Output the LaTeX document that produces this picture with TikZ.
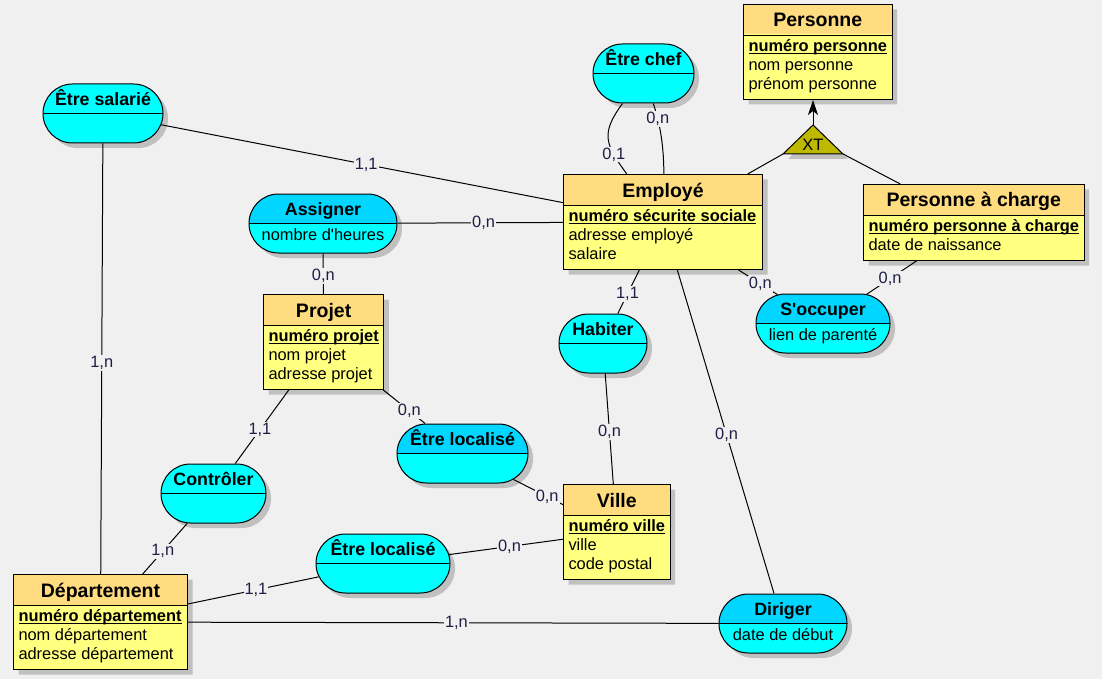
\documentclass[tikz,border=0pt]{standalone}
\usepackage{fontspec}
\setmainfont{Liberation Sans}
\usetikzlibrary{shapes.multipart,shapes.misc,shadows,arrows.meta}

\definecolor{fond}{RGB}{240,240,240}
\definecolor{enttete}{RGB}{255,220,128}
\definecolor{entcorps}{RGB}{255,255,128}
\definecolor{asscorps}{RGB}{0,255,255}
\definecolor{asstete}{RGB}{0,214,255}
\definecolor{gris}{RGB}{192,192,192}
\definecolor{xtfond}{RGB}{190,185,0}
\definecolor{cardtxt}{RGB}{30,30,70}

\newcommand{\titre}[1]{\rule[-8pt]{0pt}{30pt}{\fontsize{19.5}{20}\selectfont\bfseries #1}}
\newcommand{\cle}[1]{\underbar{\textbf{#1}}}
\newcommand{\attrs}[1]{\begin{tabular}{@{}l@{}}\rule{0pt}{15.5pt}#1\rule[-9.5pt]{0pt}{0pt}\end{tabular}}
\newcommand{\asso}[2]{\makebox[0pt]{\begin{tabular}{@{}c@{}}\rule[-8.5pt]{0pt}{30pt}{\fontsize{17.8}{19}\selectfont\bfseries #1}\\\rule[-13pt]{0pt}{29pt}#2\end{tabular}}}

\tikzset{
  ombre/.style={drop shadow={shadow xshift=5pt,shadow yshift=-5pt,fill=gris,opacity=1}},
  entite/.style={rectangle split, rectangle split parts=2,
    rectangle split part align={center,left},
    draw, fill=entcorps, anchor=north west, inner xsep=5pt, inner ysep=0pt,
    font=\fontsize{16.4}{19}\selectfont, ombre,
    path picture={\fill[enttete] (path picture bounding box.north west) rectangle ([yshift=-30pt]path picture bounding box.north east);}},
  assoc/.style={rounded rectangle, draw, fill=asscorps, minimum height=59pt,
    inner sep=0pt, font=\fontsize{16.4}{19}\selectfont, ombre,
    path picture={\draw (path picture bounding box.west) -- (path picture bounding box.east);}},
  assoctete/.style={assoc,
    path picture={\fill[asstete] (path picture bounding box.north west) rectangle (path picture bounding box.east);
      \draw (path picture bounding box.west) -- (path picture bounding box.east);}},
  card/.style={fill=fond, inner sep=1pt, text=cardtxt, font=\fontsize{16.4}{19}\selectfont}
}

\begin{document}
\begin{tikzpicture}[x=1pt,y=-1pt,line width=1pt]
\fill[fond] (0,0) rectangle (1102,679);
\useasboundingbox (0,0) rectangle (1102,679);

% entites
\node[entite, minimum width=147pt] (personne) at (743,4) {\titre{Personne}\nodepart{two}\attrs{\cle{numéro personne}\\nom personne\\prénom personne}};
\node[entite, minimum width=199pt] (employe) at (563,174) {\titre{Employé}\nodepart{two}\attrs{\cle{numéro sécurite sociale}\\adresse employé\\salaire}};
\node[entite, minimum width=220pt] (pcharge) at (863,184) {\titre{Personne à charge}\nodepart{two}\attrs{\cle{numéro personne à charge}\\date de naissance}};
\node[entite, minimum width=120pt] (projet) at (263,294) {\titre{Projet}\nodepart{two}\attrs{\cle{numéro projet}\\nom projet\\adresse projet}};
\node[entite, minimum width=106pt] (ville) at (563,484) {\titre{Ville}\nodepart{two}\attrs{\cle{numéro ville}\\ville\\code postal}};
\node[entite, minimum width=174pt] (departement) at (13,574) {\titre{Département}\nodepart{two}\attrs{\cle{numéro département}\\nom département\\adresse département}};

% associations
\node[assoc, minimum width=120pt] (salarie) at (103,113.5) {\asso{Être salarié}{}};
\node[assoc, minimum width=101pt] (chef) at (643.5,73.5) {\asso{Être chef}{}};
\node[assoctete, minimum width=148pt] (assigner) at (323,223.5) {\asso{Assigner}{nombre d\textquotesingle{}heures}};
\node[assoc, minimum width=88pt] (habiter) at (603,343.5) {\asso{Habiter}{}};
\node[assoctete, minimum width=134pt] (soccuper) at (823,323.5) {\asso{S\textquotesingle{}occuper}{lien de parenté}};
\node[assoc, minimum width=105pt] (controler) at (213.5,493.5) {\asso{Contrôler}{}};
\node[assoctete, minimum width=131pt] (localiseA) at (462.5,453.5) {\asso{Être localisé}{}};
\node[assoc, minimum width=134pt] (localiseB) at (383,563.5) {\asso{Être localisé}{}};
\node[assoctete, minimum width=128pt] (diriger) at (783,623.5) {\asso{Diriger}{date de début}};

% heritage XT
\coordinate (xt-haut) at (813,125);
\coordinate (xt-g) at (783,154);
\coordinate (xt-d) at (843,154);
\filldraw[fill=xtfond, ombre] (xt-haut) -- (xt-g) -- (xt-d) -- cycle;
\node[inner sep=0pt, font=\fontsize{16.5}{17}\selectfont] (xt) at (813,145) {XT};
\draw[-{Stealth[length=15pt,width=10pt,inset=4pt]}] (xt-haut) -- (xt-haut |- personne.south);
\draw (employe) -- (xt-g);
\draw (xt-d) -- (pcharge);

% liens
\draw (salarie) -- node[card,pos=0.51]{1,1} (employe);
\draw (salarie) -- node[card,pos=0.51]{1,n} (departement);
\draw (chef.235) .. controls +(-22,30) and +(-22,-30) .. node[card,pos=0.75]{0,1} (employe.127);
\draw (chef.288) .. controls +(5,15) and +(0,-34) .. node[card,pos=0.3]{0,n} (employe.89);
\draw (assigner) -- node[card,pos=0.52]{0,n} (employe);
\draw (assigner) -- node[card,pos=0.55]{0,n} (projet);
\draw (employe) -- node[card,pos=0.55]{1,1} (habiter);
\draw (habiter) -- node[card,pos=0.53]{0,n} (ville);
\draw (employe) -- node[card,pos=0.51]{0,n} (diriger);
\draw (employe) -- node[card,pos=0.56]{0,n} (soccuper);
\draw (soccuper) -- node[card,pos=0.47]{0,n} (pcharge);
\draw (projet) -- node[card,pos=0.54]{1,1} (controler);
\draw (projet) -- node[card,pos=0.62]{0,n} (localiseA);
\draw (localiseA) -- node[card,pos=0.68]{0,n} (ville);
\draw (controler) -- node[card,pos=0.55]{1,n} (departement);
\draw (localiseB) -- node[card,pos=0.48]{1,1} (departement);
\draw (localiseB) -- node[card,pos=0.53]{0,n} (ville);
\draw (departement) -- node[card,pos=0.506]{1,n} (diriger);
\end{tikzpicture}
\end{document}
